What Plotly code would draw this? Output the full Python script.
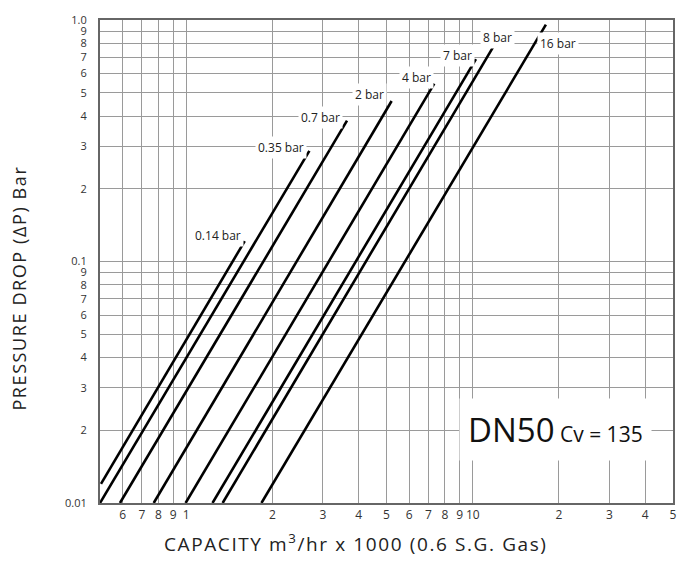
import math
import plotly.graph_objects as go

# ---- data ----
line_labels = ["0.14 bar", "0.35 bar", "0.7 bar", "2 bar", "4 bar", "7 bar", "8 bar", "16 bar"]
flow_start = [0.504, 0.500, 0.587, 0.770, 0.995, 1.235, 1.340, 1.830]
drop_start = [0.0120, 0.0100, 0.0100, 0.0100, 0.0100, 0.0100, 0.0100, 0.0100]
flow_end = [1.60, 2.69, 3.64, 5.21, 7.34, 10.26, 11.79, 18.0]
drop_end = [0.1215, 0.287, 0.383, 0.462, 0.545, 0.689, 0.774, 0.957]

x_tick_vals = [0.6, 0.7, 0.8, 0.9, 1, 2, 3, 4, 5, 6, 7, 8, 9, 10, 20, 30, 40, 50]
x_tick_text = ["6", "7", "8", "9", "1", "2", "3", "4", "5", "6", "7", "8", "9", "10", "2", "3", "4", "5"]
y_tick_vals = [0.01, 0.02, 0.03, 0.04, 0.05, 0.06, 0.07, 0.08, 0.09,
               0.1, 0.2, 0.3, 0.4, 0.5, 0.6, 0.7, 0.8, 0.9, 1.0]
y_tick_text = ["0.01", "2", "3", "4", "5", "6", "7", "8", "9",
               "0.1", "2", "3", "4", "5", "6", "7", "8", "9", "1.0"]

# label offsets (pixels) relative to each line's upper end
label_dx = [-27, -28, -27, -22, -18, -18, 4, 12]
label_dy = [6, 3, 3, 6, 6, 4, 9, -19]

FONT = "Open Sans"
fig = go.Figure()
for i, name in enumerate(line_labels):
    fig.add_trace(go.Scatter(
        x=[flow_start[i], flow_end[i]], y=[drop_start[i], drop_end[i]],
        mode="lines", line=dict(color="black", width=2.6), name=name,
        showlegend=False, hoverinfo="skip"))
    fig.add_annotation(x=math.log10(flow_end[i]), y=math.log10(drop_end[i]),
                       text=name, showarrow=False, xanchor="center", yanchor="middle",
                       xshift=label_dx[i], yshift=label_dy[i],
                       font=dict(family=FONT, size=12, color="#222"),
                       bgcolor="white", borderpad=2)

fig.add_annotation(xref="paper", yref="paper", x=0.795, y=0.153,
                   text="DN50<span style='font-size:21px'> Cv = 135</span>",
                   showarrow=False, xanchor="center", yanchor="middle",
                   font=dict(family=FONT, size=33, color="#111"),
                   bgcolor="white", borderpad=8)

fig.add_annotation(xref="paper", yref="paper", x=0.447, y=-0.082,
                   text="<span style='letter-spacing:1.6px'>CAPACITY m<sup>3</sup>/hr x 1000 (0.6 S.G. Gas)</span>",
                   showarrow=False, xanchor="center", yanchor="middle",
                   font=dict(family=FONT, size=19, color="#222"))
fig.add_annotation(xref="paper", yref="paper", x=-0.143, y=0.444,
                   text="<span style='letter-spacing:1.6px'>PRESSURE DROP (∆P) Bar</span>", textangle=-90,
                   showarrow=False, xanchor="center", yanchor="middle",
                   font=dict(family=FONT, size=18, color="#222"))

fig.update_xaxes(type="log", range=[math.log10(0.5), math.log10(50)],
                 tickvals=x_tick_vals, ticktext=x_tick_text,
                 showgrid=True, gridcolor="#9a9a9a", gridwidth=1.2,
                 showline=True, linecolor="#666", linewidth=2, mirror=True,
                 ticks="", ticklabelstandoff=0, ticklabeloverflow="allow",
                 tickfont=dict(family=FONT, size=12, color="#333"), zeroline=False)
fig.update_yaxes(type="log", range=[-2, 0],
                 tickvals=y_tick_vals, ticktext=y_tick_text,
                 showgrid=True, gridcolor="#9a9a9a", gridwidth=1.2,
                 showline=True, linecolor="#666", linewidth=2, mirror=True,
                 ticks="", ticklabelstandoff=9, ticklabeloverflow="allow",
                 tickfont=dict(family=FONT, size=11, color="#333"), zeroline=False)

fig.update_layout(width=689, height=561, margin=dict(l=100, r=16, t=12, b=58),
                  plot_bgcolor="white", paper_bgcolor="white", showlegend=False)
# remove the default page margin so the figure sits at the window's corner
fig.write_html("out.html", config={"displayModeBar": False},
               post_script="document.body.style.margin='0';")
